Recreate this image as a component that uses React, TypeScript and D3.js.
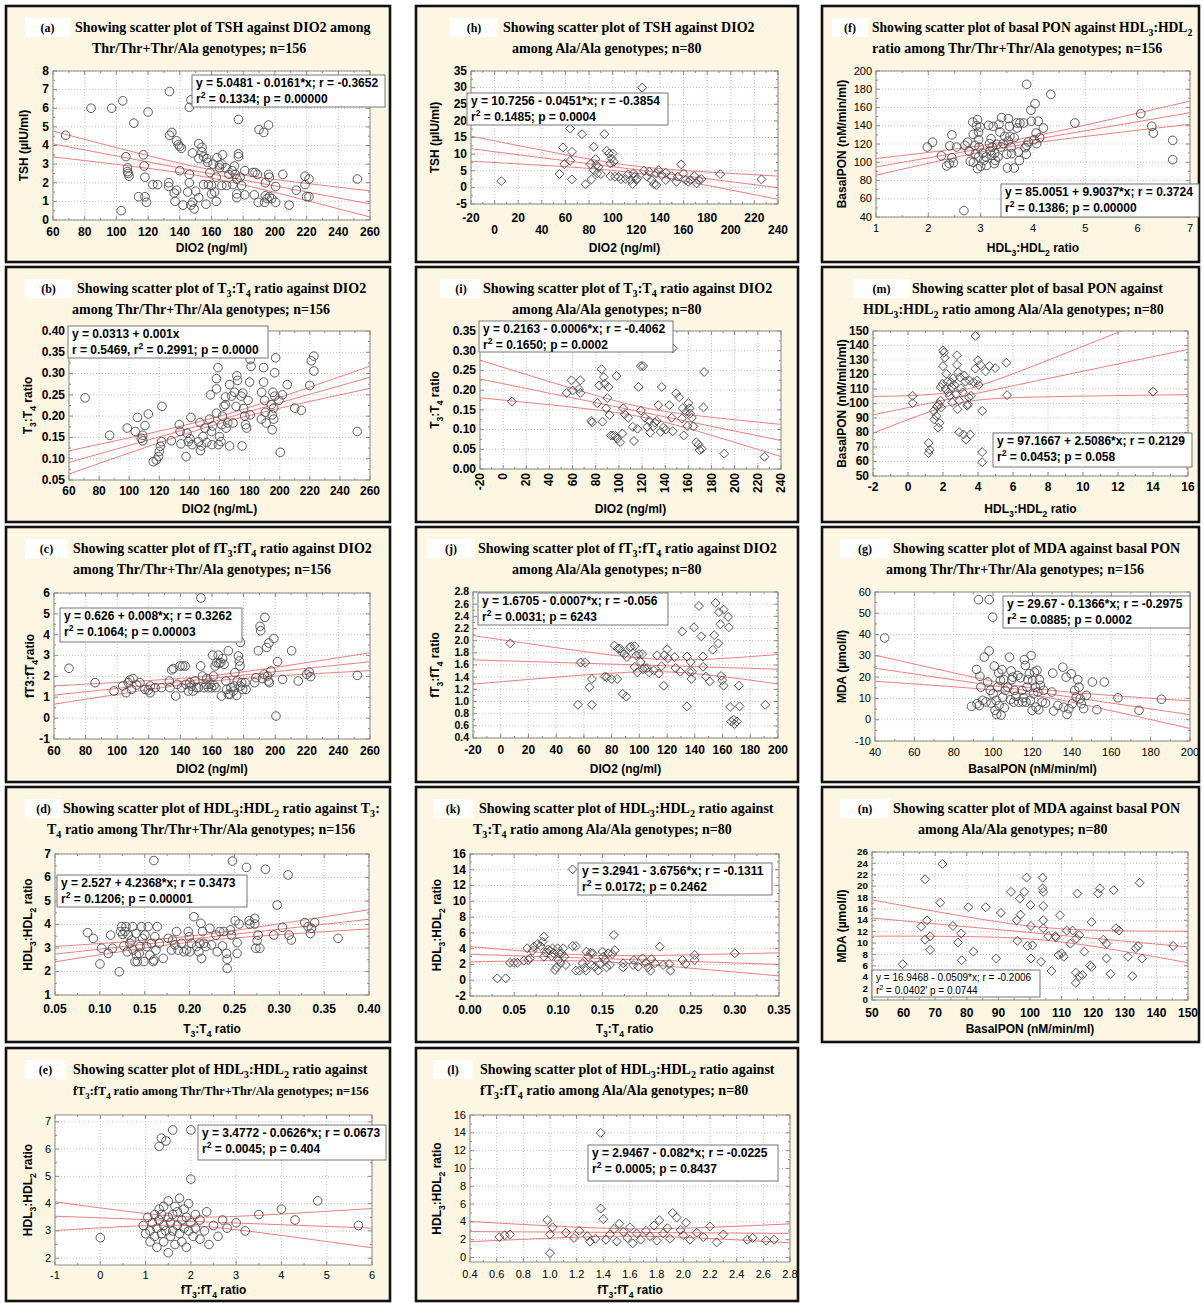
import React from 'react';
import * as d3 from 'd3';

type Pt = [number, number];

// ---------- data ----------
// (a) TSH vs DIO2, Thr/Thr+Thr/Ala
const tshDio2Thr: Pt[] = [
  [68, 4.55], [84, 6.0], [97, 6.0], [104, 6.4], [111, 5.2], [120, 5.8], [106, 3.4], [107, 2.8], [107, 2.6], [107.5, 2.5],
  [108, 2.35], [103, 0.5], [114, 1.25], [117, 3.5], [117.5, 2.9], [118, 2.3], [118, 1.25], [119, 0.95], [123, 1.9], [126, 1.9],
  [133, 1.8], [133, 2.0], [133.5, 6.9], [133.5, 4.55], [135, 4.7], [136.5, 1.45], [137, 1.0], [138, 1.6], [138, 4.25], [139, 4.05],
  [140, 3.95], [141, 3.85], [140, 2.65], [142, 0.8], [146, 2.0], [146, 2.45], [145, 1.5], [146, 6.05], [147, 6.45], [147, 0.8],
  [148, 0.95], [149, 0.6], [148, 3.6], [150, 1.55], [152, 1.2], [152, 3.3], [152, 4.1], [154, 3.9], [154, 3.65], [155, 3.4],
  [155, 1.9], [156.5, 0.85], [157, 3.3], [157.5, 3.1], [158, 1.9], [159, 2.55], [160, 1.85], [160, 1.4], [161, 3.0], [162, 1.5],
  [163, 1.0], [163, 2.3], [163.5, 3.35], [165, 2.95], [165, 2.8], [166.5, 3.0], [167, 3.5], [166.5, 1.85], [169, 2.8], [169.5, 1.85],
  [171, 2.45], [173, 2.65], [173.5, 1.9], [174.5, 2.9], [175, 2.45], [176, 2.2], [176, 1.4], [176, 1.2], [177, 3.55], [177, 3.4],
  [177, 5.4], [178, 2.3], [179, 1.85], [181, 2.65], [181, 1.35], [186, 2.55], [187.5, 2.55], [187, 1.35], [189, 2.45], [189.5, 0.95],
  [190, 4.85], [193, 4.7], [196, 5.1], [194, 2.0], [194, 1.3], [193.5, 0.95], [196, 2.45], [196.5, 2.3], [196.5, 1.25], [195, 1.15],
  [198, 1.15], [200.5, 1.8], [200.5, 0.95], [205, 2.45], [209, 0.8], [213.5, 1.6], [219, 2.35], [219, 1.9], [220, 1.25], [221.5, 1.25],
  [221.5, 2.2], [252, 2.2],
];
// (h) TSH vs DIO2, Ala/Ala
const tshDio2Ala: Pt[] = [
  [5.6, 1.9], [55, 4.0], [58, 12.0], [59, 7.0], [64, 8.0], [64, 17.7], [65.5, 10.7], [65.5, 2.4], [74, 16.0], [77, 0.9],
  [81, 7.0], [82, 2.4], [84, 12.2], [84, 5.2], [85.5, 8.5], [86, 6.7], [87, 4.2], [88, 6.2], [90, 4.0], [93, 16.0],
  [95, 11.0], [97, 10.2], [98, 7.2], [99, 8.7], [98, 3.4], [100, 10.2], [101, 7.7], [102, 3.2], [105, 3.2], [107, 2.5],
  [111, 2.5], [113, 3.9], [115, 2.2], [117, 1.0], [117.5, 4.2], [118.5, 3.2], [120, 2.2], [121, 2.7], [125, 30.0], [126.5, 5.0],
  [129, 3.2], [131, 4.7], [133, 2.2], [135, 1.0], [137, 0.7], [137, 4.2], [139, 5.2], [141.5, 3.7], [145, 2.2], [145, 4.4],
  [150, 3.4], [154, 1.7], [155, 3.2], [158, 6.9], [160, 4.2], [161.5, 2.2], [164, 1.7], [166, 2.2], [169, 3.4], [171, 1.2],
  [173, 2.2], [175, 2.5], [191, 4.0], [226, 2.4],
];
// (f) basal PON vs HDL3:HDL2, Thr/Thr+Thr/Ala
const ponHdlThr: Pt[] = [
  [1.98, 116.7], [2.08, 122], [2.25, 107], [2.35, 96], [2.4, 98.5], [2.41, 118], [2.45, 130], [2.45, 105], [2.48, 99.5], [2.54, 116.7],
  [2.68, 47], [2.7, 118.5], [2.75, 122], [2.78, 112], [2.8, 101], [2.85, 144], [2.86, 130.6], [2.86, 100], [2.89, 118.5], [2.9, 109],
  [2.92, 140], [2.94, 93], [2.94, 146.7], [2.96, 133], [2.96, 124.7], [2.96, 105.8], [2.97, 116.7], [2.99, 138.6], [3.0, 95.5], [3.04, 110],
  [3.06, 102], [3.1, 105.8], [3.11, 96.6], [3.15, 140.5], [3.17, 120.4], [3.18, 112.3], [3.2, 125.8], [3.21, 107.6], [3.22, 116.7], [3.24, 139.4],
  [3.26, 98.5], [3.27, 109.4], [3.28, 102.1], [3.31, 119.6], [3.33, 105.8], [3.35, 141.6], [3.37, 133.1], [3.39, 116.7], [3.4, 148.9], [3.43, 120.4],
  [3.46, 128.4], [3.5, 108.7], [3.51, 93.7], [3.53, 147.8], [3.53, 123.3], [3.55, 139.4], [3.56, 128.4], [3.58, 116.7], [3.59, 109.4], [3.64, 127],
  [3.64, 93.7], [3.69, 143], [3.7, 137.5], [3.72, 111.2], [3.74, 102], [3.75, 143], [3.82, 143], [3.85, 116], [3.87, 108.7], [3.88, 185.4],
  [3.88, 118.5], [3.91, 122.2], [3.96, 157], [3.97, 145], [4.02, 124.7], [4.04, 164.2], [4.06, 132], [4.07, 120.4], [4.1, 145], [4.13, 127],
  [4.2, 137.5], [4.34, 174.4], [4.8, 143], [6.06, 153.2], [6.27, 139.4], [6.3, 132], [6.67, 124], [6.67, 102.8],
];
// (b) T3:T4 ratio vs DIO2, Thr/Thr+Thr/Ala
const t3t4Dio2Thr: Pt[] = [
  [70.7, 0.243], [87, 0.155], [98.7, 0.172], [104, 0.164], [105.5, 0.197], [108, 0.148], [109, 0.155], [109, 0.142], [110.5, 0.178], [112.7, 0.205],
  [116, 0.093], [118, 0.097], [119.5, 0.105], [120, 0.117], [120.7, 0.129], [121.5, 0.14], [121.8, 0.223], [128, 0.142], [133.3, 0.18], [133.8, 0.164],
  [134.4, 0.135], [137.8, 0.105], [138.4, 0.16], [139.3, 0.14], [140.4, 0.147], [141, 0.197], [141.8, 0.133], [146, 0.14], [147, 0.185], [147.3, 0.119],
  [148, 0.13], [149, 0.152], [150.4, 0.172], [151.5, 0.138], [153.3, 0.193], [154, 0.25], [154.7, 0.164], [155, 0.133], [155.5, 0.177], [158, 0.264],
  [158, 0.288], [158, 0.207], [159, 0.314], [159.3, 0.133], [160, 0.152], [161, 0.14], [161.5, 0.18], [162, 0.2], [163, 0.223], [164, 0.227],
  [164, 0.245], [164.4, 0.172], [165.5, 0.184], [166.7, 0.274], [166.7, 0.13], [168, 0.247], [169, 0.184], [170, 0.256], [171, 0.223], [171.5, 0.295],
  [172, 0.284], [174.4, 0.247], [175, 0.13], [175.5, 0.254], [176, 0.218], [176.7, 0.2], [177.3, 0.18], [178, 0.172], [179, 0.237], [180, 0.28],
  [180.4, 0.203], [180.4, 0.333], [181, 0.317], [187.8, 0.193], [188, 0.256], [189.3, 0.314], [189.3, 0.28], [190, 0.237], [190.4, 0.209], [191, 0.184],
  [194.4, 0.227], [195, 0.203], [195, 0.168], [195.5, 0.256], [196, 0.193], [196, 0.219], [196.7, 0.247], [196.7, 0.302], [197.3, 0.337], [199.5, 0.237],
  [200.4, 0.115], [201.8, 0.25], [205, 0.274], [210, 0.219], [214.4, 0.214], [220, 0.272], [221, 0.33], [222.7, 0.341], [222.7, 0.306], [251.5, 0.164],
];
// (i) T3:T4 ratio vs DIO2, Ala/Ala
const t3t4Dio2Ala: Pt[] = [
  [7.5, 0.171], [55, 0.193], [59, 0.225], [60, 0.199], [65.5, 0.203], [66.7, 0.225], [66.7, 0.193], [76, 0.122], [77, 0.118], [81.4, 0.167],
  [83, 0.212], [85, 0.253], [85.8, 0.12], [87, 0.233], [87.8, 0.216], [89, 0.154], [90, 0.18], [91, 0.208], [92, 0.137], [93, 0.085],
  [95, 0.085], [97, 0.084], [98, 0.236], [98.5, 0.077], [101, 0.068], [103, 0.09], [103.7, 0.154], [105, 0.139], [108, 0.13], [112, 0.107],
  [113, 0.071], [116, 0.102], [117, 0.208], [119, 0.148], [119, 0.261], [121, 0.261], [122.5, 0.13], [124.5, 0.107], [126, 0.122], [127, 0.092],
  [129.7, 0.109], [131, 0.118], [132.6, 0.122], [134, 0.162], [136, 0.094], [137, 0.208], [138.4, 0.105], [140.4, 0.1], [143.6, 0.162], [145.6, 0.13],
  [146.5, 0.096], [146.5, 0.306], [149.4, 0.192], [152, 0.182], [154.4, 0.128], [155, 0.154], [156, 0.085], [158, 0.145], [159, 0.109], [160, 0.167],
  [161, 0.154], [161.5, 0.141], [163, 0.13], [164.4, 0.108], [166.7, 0.068], [168.7, 0.062], [169.6, 0.048], [171.6, 0.051], [173, 0.156], [173.6, 0.246],
  [191, 0.039], [225.7, 0.031],
];
// (m) basal PON vs HDL3:HDL2, Ala/Ala
const ponHdlAla: Pt[] = [
  [0.26, 105.3], [0.26, 100.2], [1.18, 72.8], [1.18, 65.8], [1.24, 68], [1.47, 94.9], [1.5, 89], [1.62, 91.4], [1.66, 97.9], [1.72, 83.3],
  [1.76, 99.5], [1.8, 86.7], [1.86, 101.9], [1.86, 111.2], [1.9, 97.2], [1.96, 113.5], [2.0, 125.8], [2.0, 136.7], [2.05, 135], [2.1, 131.6],
  [2.15, 110], [2.19, 120.5], [2.25, 115], [2.3, 107.7], [2.38, 105.3], [2.45, 114.7], [2.5, 111.2], [2.54, 100.7], [2.58, 117.4], [2.64, 112.8],
  [2.74, 106.5], [2.8, 133.3], [2.8, 126.7], [2.83, 96], [2.87, 121.6], [2.93, 101.9], [2.97, 118], [2.93, 80.2], [3.03, 110.5], [3.13, 107.7],
  [3.17, 78.6], [3.22, 119.3], [3.28, 115.1], [3.32, 75.1], [3.38, 98.4], [3.42, 99.5], [3.48, 104.2], [3.52, 115.8], [3.56, 78.6], [3.6, 105.3],
  [3.75, 114.7], [3.85, 124], [3.85, 146.7], [3.95, 115.8], [4.0, 129.8], [4.04, 112.8], [4.14, 126.7], [4.24, 94.9], [4.24, 66.5], [4.24, 59.5],
  [4.43, 122.1], [4.65, 125.8], [4.98, 124.4], [5.62, 128.1], [5.66, 105.8], [14.0, 108.1],
];
// (c) fT3:fT4 ratio vs DIO2, Thr/Thr+Thr/Ala
const ft3ft4Dio2Thr: Pt[] = [
  [69.5, 2.39], [86, 1.7], [98, 1.3], [103.5, 1.54], [105.6, 1.22], [107, 1.7], [108, 1.83], [109, 1.38], [110, 1.9], [112.3, 1.59],
  [114.4, 1.7], [117.6, 1.38], [119.7, 1.35], [120.8, 1.22], [121, 1.54], [124, 1.46], [128, 1.46], [133, 1.78], [133.4, 1.46], [134.5, 2.31],
  [135.5, 2.38], [137, 1.06], [138, 1.62], [139.7, 2.5], [140.8, 1.46], [141.4, 2.5], [143, 2.5], [143.5, 1.62], [145, 1.3], [146, 1.7],
  [147, 1.54], [148, 1.3], [149.2, 1.78], [150.3, 1.46], [151.4, 1.46], [152.8, 2.5], [153, 5.76], [154, 2.02], [155, 1.46], [156.3, 1.62],
  [156.7, 1.9], [157.7, 1.46], [158.7, 1.62], [159.8, 1.46], [160.4, 3.02], [161, 2.02], [161.3, 1.57], [162, 2.5], [162.5, 1.46], [163, 2.66],
  [164, 3.02], [164.4, 2.62], [165.5, 2.66], [166, 1.06], [166.7, 2.86], [167.6, 2.58], [168.8, 1.78], [169.3, 1.38], [170.3, 3.23], [170.3, 1.14],
  [171.4, 1.14], [172, 1.46], [173.5, 1.3], [174, 1.54], [174.5, 2.18], [175.6, 1.09], [176, 1.78], [176.7, 2.98], [177.3, 2.74], [177.7, 2.5],
  [178, 1.54], [178, 3.63], [178.8, 1.7], [179.4, 1.38], [181, 1.7], [181.5, 1.38], [187, 1.7], [187.8, 1.94], [189.3, 3.23], [190.4, 4.4],
  [190.8, 4.19], [192, 1.9], [193, 2.1], [193.5, 4.83], [194.6, 3.39], [195.2, 2.02], [195.7, 1.78], [196, 3.6], [196.3, 1.7], [197.3, 2.26],
  [199.2, 3.82], [200.5, 0.1], [201.5, 2.71], [204.7, 1.86], [210.4, 3.23], [214.6, 1.78], [220, 2.1], [221.6, 2.21], [222.4, 1.99], [252, 2.05],
];
// (j) fT3:fT4 ratio vs DIO2, Ala/Ala
const ft3ft4Dio2Ala: Pt[] = [
  [6.9, 1.955], [55.7, 0.945], [57.6, 1.64], [61, 1.64], [64, 1.235], [65.8, 1.37], [65.8, 0.945], [75, 1.41], [76.6, 1.4], [80, 1.37],
  [82, 1.92], [84, 1.37], [84.5, 1.87], [86, 1.87], [87, 1.82], [88, 1.125], [89.4, 1.78], [90.6, 1.08], [91, 1.73], [93, 1.89],
  [94, 1.9], [96.6, 1.91], [96.6, 1.57], [97.8, 1.76], [98.5, 1.48], [99.7, 1.78], [101, 1.65], [102, 1.78], [102.6, 1.53], [103.8, 1.55],
  [105.5, 1.55], [107, 1.48], [110.3, 1.51], [112.7, 1.76], [114, 1.46], [116, 1.58], [117.5, 1.26], [118, 1.76], [120, 1.86], [120.6, 1.71],
  [125.4, 1.73], [126, 1.55], [129.5, 1.49], [131, 2.15], [134.3, 1.74], [134.3, 0.92], [136, 1.49], [137, 1.65], [137.5, 1.37], [138, 1.49],
  [139.4, 2.22], [143, 2.57], [144.7, 2.07], [146, 1.74], [146, 1.57], [148, 1.41], [150.7, 1.33], [153, 1.85], [154, 2.09], [155, 2.62],
  [157, 1.955], [157.4, 2.47], [158.4, 2.27], [159, 1.42], [159.8, 1.35], [160.8, 2.51], [160.8, 1.26], [164, 2.39], [164.6, 2.22], [165.5, 0.91],
  [166.3, 0.67], [168, 0.7], [168.7, 0.63], [170.4, 0.67], [171.8, 1.26], [172.3, 0.92], [190.8, 0.945],
];
// (g) MDA vs basal PON, Thr/Thr+Thr/Ala
const mdaPonThr: Pt[] = [
  [44.9, 38.4], [89, 6.3], [91.6, 23.6], [91.8, 7.5], [92.6, 56.4], [93, 6.7], [93.3, 20.4], [93.8, 15.3], [94.7, 9.1], [95.5, 29.4],
  [96.4, 8.3], [97.2, 17.7], [98, 32.3], [98, 56.4], [98.6, 13.8], [99, 7.8], [99.8, 48.2], [100, 12.2], [100.6, 25.2], [101, 4.4],
  [101.5, 9.1], [101.8, 2.5], [102.3, 15.3], [102.8, 21.9], [103, 6.7], [103.7, 18.5], [104, 2.2], [104.5, 23.5], [104.9, 10.6], [105.4, 18.8],
  [105.7, 5.6], [106.2, 13.8], [107.4, 15.3], [108.3, 29.4], [108.8, 9.4], [109.1, 22.9], [109.5, 18.8], [110, 20], [110.5, 8.3], [110.8, 13.8],
  [111.6, 11], [112.5, 20.8], [113, 8.3], [113.9, 19.7], [114.7, 13.8], [115, 8.3], [115.4, 10.3], [115.9, 28.2], [116.4, 25.5], [116.7, 8.3],
  [117.2, 15.3], [117.6, 18.8], [118.4, 21.6], [118.9, 9.1], [119.3, 30.2], [119.8, 4.4], [120.1, 18.5], [120.6, 12.2], [121, 22.4], [121.5, 15.3],
  [121.8, 5.9], [122.3, 23.2], [122.7, 13], [123.2, 4.7], [123.5, 18.8], [124, 16.1], [124.9, 8.3], [125.7, 13.8], [126.6, 7.8], [129.8, 13],
  [130.3, 21.9], [130.7, 4.1], [132.9, 6.7], [135.4, 24.7], [135.8, 5.9], [137.1, 20], [137.5, 2.5], [138.5, 5.2], [139.7, 21.6], [140.2, 7.5],
  [141.4, 13.8], [142.2, 10.6], [143, 18.8], [143.6, 15.3], [144.2, 9.9], [144.8, 7.5], [146, 5.2], [147.3, 11.4], [150.4, 17.7], [152.7, 4.7],
  [156.5, 17.7], [163.4, 10.3], [174.1, 4.4], [185.5, 9.6],
];
// (d) HDL3:HDL2 ratio vs T3:T4 ratio, Thr/Thr+Thr/Ala
const hdlT3t4Thr: Pt[] = [
  [0.0864, 3.65], [0.0927, 3.41], [0.1001, 2.32], [0.102, 2.99], [0.1094, 2.77], [0.112, 3.55], [0.1142, 2.99], [0.1216, 1.99], [0.1231, 3.7], [0.1242, 3.91],
  [0.1254, 3.58], [0.1268, 3.09], [0.128, 3.7], [0.1291, 3.91], [0.1305, 2.84], [0.1317, 3.55], [0.1335, 3.2], [0.1354, 3.34], [0.1365, 3.91], [0.1372, 2.91],
  [0.1391, 2.42], [0.1402, 3.62], [0.1409, 2.7], [0.1417, 2.42], [0.1439, 2.77], [0.1447, 3.06], [0.1465, 3.91], [0.1476, 3.41], [0.1491, 2.42], [0.1502, 3.55],
  [0.1521, 3.06], [0.1539, 3.91], [0.1558, 2.7], [0.1576, 3.2], [0.1595, 2.42], [0.1602, 6.72], [0.1602, 2.49], [0.1613, 3.48], [0.1625, 2.91], [0.164, 3.91],
  [0.1662, 3.2], [0.1706, 2.56], [0.1762, 3.41], [0.1799, 2.91], [0.181, 3.34], [0.1836, 3.13], [0.1855, 3.7], [0.1873, 2.91], [0.191, 3.2], [0.1937, 2.84],
  [0.1966, 2.91], [0.1985, 3.7], [0.1996, 3.48], [0.2003, 2.84], [0.2022, 3.2], [0.2048, 4.33], [0.2078, 3.06], [0.2104, 2.84], [0.2115, 3.2], [0.2126, 4.05],
  [0.2133, 2.56], [0.2144, 3.7], [0.2159, 3.2], [0.2181, 3.06], [0.2226, 3.84], [0.2245, 3.13], [0.2293, 3.55], [0.2308, 2.84], [0.2337, 3.7], [0.2367, 3.09],
  [0.2382, 3.7], [0.2412, 2.77], [0.2419, 2.52], [0.2419, 2.13], [0.2456, 3.77], [0.2467, 3.55], [0.2478, 6.7], [0.2508, 4.16], [0.253, 3.23], [0.253, 2.77],
  [0.2553, 4.02], [0.2634, 6.43], [0.2664, 4.16], [0.2672, 4.02], [0.2727, 4.26], [0.2727, 4.02], [0.2738, 2.99], [0.2753, 3.31], [0.2764, 3.55], [0.2783, 2.99],
  [0.2846, 6.35], [0.2939, 3.55], [0.2976, 4.83], [0.3035, 3.88], [0.3098, 6.11], [0.311, 3.55], [0.3135, 3.34], [0.3284, 4.08], [0.332, 3.91], [0.3347, 3.62],
  [0.3358, 3.84], [0.3395, 4.08], [0.3655, 3.41],
];
// (k) HDL3:HDL2 ratio vs T3:T4 ratio, Ala/Ala
const hdlT3t4Ala: Pt[] = [
  [0.0309, 0.24], [0.0404, 0.24], [0.0453, 2.2], [0.0498, 2.2], [0.0536, 2.2], [0.0611, 2.48], [0.0649, 4.04], [0.066, 2.56], [0.0679, 2.77], [0.0709, 3.75],
  [0.0724, 4.25], [0.0766, 4.58], [0.08, 4.33], [0.0822, 4.88], [0.0837, 5.52], [0.0837, 2.98], [0.086, 3.49], [0.0886, 3.9], [0.0905, 3.75], [0.0924, 3.07],
  [0.0935, 4.04], [0.095, 3.41], [0.0962, 1.3], [0.0981, 1.63], [0.0992, 4.04], [0.1, 2.56], [0.101, 3.41], [0.1026, 2.14], [0.1037, 3.41], [0.1056, 4.04],
  [0.1068, 2.98], [0.1086, 1.93], [0.1162, 14.05], [0.1162, 4.33], [0.12, 1.22], [0.12, 4.33], [0.1237, 1.22], [0.1275, 2.14], [0.1301, 1.63], [0.1313, 1.22],
  [0.132, 3.62], [0.1339, 2.98], [0.1366, 3.49], [0.1377, 1.93], [0.1388, 3.41], [0.1415, 1.72], [0.1452, 1.22], [0.1471, 2.06], [0.1501, 3.62], [0.1509, 2.98],
  [0.1528, 2.56], [0.1547, 1.63], [0.1565, 3.41], [0.1584, 1.93], [0.1611, 3.32], [0.163, 5.73], [0.1641, 3.81], [0.1735, 2.14], [0.1735, 1.63], [0.1848, 1.93],
  [0.1856, 2.56], [0.1905, 1.72], [0.1954, 2.77], [0.1992, 2.2], [0.2018, 1.63], [0.2045, 1.22], [0.2056, 2.65], [0.2094, 2.14], [0.215, 4.25], [0.2188, 1.93],
  [0.2256, 2.06], [0.2271, 1.22], [0.2407, 2.56], [0.2444, 2.06], [0.2546, 3.2], [0.2546, 2.56], [0.2999, 3.41],
];
// (n) MDA vs basal PON, Ala/Ala
const mdaPonAla: Pt[] = [
  [59.7, 6.3], [65.6, 12.9], [66.8, 21.2], [66.8, 10.6], [67.4, 14.0], [68.4, 11.2], [68.4, 8.8], [71.6, 17.1], [72.3, 23.9], [75.6, 13],
  [77.2, 10.1], [78.2, 11.7], [78.4, 7], [80.5, 16.3], [82.1, 8.5], [86, 16.3], [89.3, 7.3], [90.8, 15.3], [94, 19], [95.8, 14],
  [96, 10.4], [96.8, 17.8], [97, 15], [98.2, 19], [98.9, 21.5], [99.2, 9.5], [100.2, 16.7], [100.3, 13], [100.3, 7.3], [100.8, 9.6],
  [103.5, 6.7], [104, 21.5], [104, 19.6], [104.2, 19], [104.2, 16.5], [104.2, 14], [104.2, 12.6], [105.8, 11.2], [106.8, 5.1], [108, 11.2],
  [108.2, 11], [109, 7.9], [109.5, 14.9], [110, 8.2], [110.7, 7.6], [111.6, 12.2], [112.8, 9.9], [113.5, 12.2], [114.5, 3], [114.5, 4.8],
  [114.7, 10.8], [115, 18.7], [115.6, 11.4], [115.6, 4.2], [116.6, 4.4], [117.2, 8.5], [119, 6.1], [119.5, 13.7], [119.5, 5.8], [121.6, 18.7],
  [122.1, 19.6], [123.2, 10.6], [124.2, 9.9], [124.2, 7.3], [125.5, 4.6], [126.5, 19.3], [127.2, 12.6], [128.2, 12.2], [131, 7.6], [132.4, 4.2],
  [133.5, 9.1], [134.2, 9.5], [134.7, 20.6], [135.5, 7.3], [145.3, 9.5],
];
// (e) HDL3:HDL2 ratio vs fT3:fT4 ratio, Thr/Thr+Thr/Ala
const hdlFt3ft4Thr: Pt[] = [
  [0.0, 2.75], [0.95, 3.2], [1.0, 2.9], [1.05, 3.5], [1.1, 3.0], [1.1, 2.6], [1.15, 3.3], [1.2, 3.6], [1.2, 2.8], [1.25, 3.1],
  [1.25, 2.4], [1.3, 3.4], [1.3, 3.8], [1.3, 6.1], [1.35, 2.9], [1.35, 3.6], [1.35, 6.4], [1.4, 3.2], [1.4, 2.6], [1.4, 3.9],
  [1.45, 3.0], [1.45, 6.3], [1.5, 3.5], [1.5, 2.2], [1.5, 4.1], [1.55, 3.3], [1.55, 2.8], [1.6, 6.7], [1.6, 3.6], [1.6, 3.0],
  [1.65, 3.9], [1.65, 2.5], [1.7, 3.2], [1.7, 3.7], [1.75, 2.9], [1.75, 4.2], [1.8, 3.4], [1.8, 2.6], [1.85, 3.1], [1.85, 3.8],
  [1.9, 3.5], [1.9, 2.4], [1.95, 3.0], [1.95, 4.0], [2.0, 6.7], [2.0, 4.9], [2.0, 3.3], [2.05, 2.8], [2.1, 3.6], [2.1, 3.1],
  [2.2, 3.4], [2.2, 2.7], [2.3, 3.0], [2.35, 3.7], [2.4, 2.5], [2.5, 3.2], [2.6, 2.8], [2.7, 3.4], [2.8, 3.1], [3.0, 3.3],
  [3.2, 3.0], [3.5, 3.6], [4.0, 3.8], [4.3, 3.4], [4.8, 4.1], [5.7, 3.2],
];
// (l) HDL3:HDL2 ratio vs fT3:fT4 ratio, Ala/Ala
const hdlFt3ft4Ala: Pt[] = [
  [0.62, 2.3], [0.66, 2.5], [0.7, 2.6], [0.98, 4.2], [1.0, 0.5], [1.0, 2.6], [1.02, 3.4], [1.12, 2.8], [1.18, 2.2], [1.22, 3.0],
  [1.28, 2.4], [1.3, 1.8], [1.34, 2.1], [1.38, 14.0], [1.38, 5.5], [1.4, 4.3], [1.42, 2.0], [1.45, 2.6], [1.48, 3.2], [1.5, 1.8],
  [1.52, 3.8], [1.55, 2.9], [1.58, 2.2], [1.6, 3.4], [1.62, 1.6], [1.65, 2.7], [1.68, 2.0], [1.72, 3.0], [1.75, 2.4], [1.78, 3.6],
  [1.8, 1.9], [1.82, 4.2], [1.85, 2.7], [1.88, 3.3], [1.9, 2.1], [1.92, 5.0], [1.95, 4.5], [1.98, 3.1], [2.0, 2.5], [2.02, 3.9],
  [2.05, 2.0], [2.1, 2.8], [2.15, 2.3], [2.2, 3.5], [2.25, 1.7], [2.3, 2.6], [2.48, 2.0], [2.52, 2.2], [2.62, 1.9], [2.68, 2.0],
];

// regression coefficients (intercept, slope) as printed
const fitA = [5.0481, -0.0161];
const fitH = [10.7256, -0.0451];
const fitF = [85.0051, 9.9037];
const fitB = [0.0313, 0.001];
const fitI = [0.2163, -0.0006];
const fitM = [97.1667, 2.5086];
const fitC = [0.626, 0.008];
const fitJ = [1.6705, -0.0007];
const fitG = [29.67, -0.1366];
const fitD = [2.527, 4.2368];
const fitK = [3.2941, -3.6756];
const fitN = [16.9468, -0.0509];
const fitE = [3.4772, -0.0626];
const fitL = [2.9467, -0.082];

const THR = 'Thr/Thr+Thr/Ala genotypes; n=156';
const ALA = 'Ala/Ala genotypes; n=80';

// ---------- layout ----------
type Cfg = {
  id: string; frame: number[]; plot: number[]; xd: number[]; yd: number[]; xs: number; ys: number;
  xf: string; yf: string; xMode: 'normal' | 'stagger' | 'rotate'; bold: boolean; marker: 'circle' | 'diamond';
  pts: Pt[]; fit: number[]; n: number; title: string[]; titleX: number[]; titleFs?: number[]; lab: number[];
  xTitle: string; yTitle: string; yTitleX: number; eq: string[]; eqBox: number[]; eqBold: boolean;
  xLabOff?: number; yTickFs?: number;
};

const C1 = [6, 390], C2 = [416, 798], C3 = [822, 1199];
const R = [[6, 262], [267, 522], [527, 782], [787, 1042], [1048, 1301]];
const fr = (c: number[], r: number[]) => [c[0], r[0], c[1], r[1]];

const PANELS: Cfg[] = [
  { id: '(a)', frame: fr(C1, R[0]), plot: [53, 71, 370, 220], xd: [60, 260], yd: [0, 8], xs: 20, ys: 1, xf: 'd', yf: 'd', xMode: 'normal', bold: true, marker: 'circle',
    pts: tshDio2Thr, fit: fitA, n: 156, title: ['Showing scatter plot of TSH against DIO2 among', THR], titleX: [75, 92], lab: [25, 70],
    xTitle: 'DIO2 (ng/ml)', yTitle: 'TSH (µIU/ml)', yTitleX: 24, eq: ['y = 5.0481 - 0.0161*x; r = -0.3652', 'r^2 = 0.1334; p = 0.00000'], eqBox: [192, 75, 385, 107], eqBold: true, xLabOff: 16 },
  { id: '(h)', frame: fr(C2, R[0]), plot: [471, 71, 778, 204], xd: [-20, 240], yd: [-5, 35], xs: 20, ys: 5, xf: 'd', yf: 'd', xMode: 'stagger', bold: true, marker: 'diamond',
    pts: tshDio2Ala, fit: fitH, n: 80, title: ['Showing scatter plot of TSH against DIO2', 'among ' + ALA], titleX: [503, 512], lab: [450, 498],
    xTitle: 'DIO2 (ng/ml)', yTitle: 'TSH (µIU/ml)', yTitleX: 435, eq: ['y = 10.7256 - 0.0451*x; r = -0.3854', 'r^2 = 0.1485; p = 0.0004'], eqBox: [467, 93, 668, 125], eqBold: true },
  { id: '(f)', frame: fr(C3, R[0]), plot: [876, 71, 1190, 217], xd: [1, 7], yd: [40, 200], xs: 1, ys: 20, xf: 'd', yf: 'd', xMode: 'normal', bold: false, marker: 'circle',
    pts: ponHdlThr, fit: fitF, n: 156, title: ['Showing scatter plot of basal PON against HDL_3:HDL_2', 'ratio among ' + THR], titleX: [872, 872], titleFs: [13.6, 14], lab: [832, 868],
    xTitle: 'HDL_3:HDL_2 ratio', yTitle: 'BasalPON (nM/min/ml)', yTitleX: 842, eq: ['y = 85.0051 + 9.9037*x; r = 0.3724', 'r^2 = 0.1386; p = 0.00000'], eqBox: [1001, 184, 1199, 217], eqBold: true, xLabOff: 15 },
  { id: '(b)', frame: fr(C1, R[1]), plot: [69, 331, 370, 480], xd: [60, 260], yd: [0.05, 0.4], xs: 20, ys: 0.05, xf: 'd', yf: '.2f', xMode: 'normal', bold: true, marker: 'circle',
    pts: t3t4Dio2Thr, fit: fitB, n: 156, title: ['Showing scatter plot of T_3:T_4 ratio against DIO2', 'among ' + THR], titleX: [77, 72], lab: [25, 72],
    xTitle: 'DIO2 (ng/mL)', yTitle: 'T_3:T_4 ratio', yTitleX: 28, eq: ['y = 0.0313 + 0.001x', 'r = 0.5469, r^2 = 0.2991; p = 0.0000'], eqBox: [68, 326, 268, 358], eqBold: true, xLabOff: 15 },
  { id: '(i)', frame: fr(C2, R[1]), plot: [480, 331, 781, 469], xd: [-20, 240], yd: [0, 0.35], xs: 20, ys: 0.05, xf: 'd', yf: '.2f', xMode: 'rotate', bold: true, marker: 'diamond',
    pts: t3t4Dio2Ala, fit: fitI, n: 80, title: ['Showing scatter plot of T_3:T_4 ratio against DIO2', 'among ' + ALA], titleX: [483, 512], lab: [440, 482],
    xTitle: 'DIO2 (ng/ml)', yTitle: 'T_3:T_4 ratio', yTitleX: 435, eq: ['y = 0.2163 - 0.0006*x; r = -0.4062', 'r^2 = 0.1650; p = 0.0002'], eqBox: [479, 321, 673, 352], eqBold: true },
  { id: '(m)', frame: fr(C3, R[1]), plot: [873, 331, 1188, 476], xd: [-2, 16], yd: [50, 150], xs: 2, ys: 10, xf: 'd', yf: 'd', xMode: 'normal', bold: true, marker: 'diamond',
    pts: ponHdlAla, fit: fitM, n: 80, title: ['Showing scatter plot of basal PON against', 'HDL_3:HDL_2 ratio among ' + ALA], titleX: [912, 863], lab: [853, 910],
    xTitle: 'HDL_3:HDL_2 ratio', yTitle: 'BasalPON (nM/min/ml)', yTitleX: 842, eq: ['y = 97.1667 + 2.5086*x; r = 0.2129', 'r^2 = 0.0453; p = 0.058'], eqBox: [993, 433, 1192, 467], eqBold: true, xLabOff: 15 },
  { id: '(c)', frame: fr(C1, R[2]), plot: [54, 593, 370, 739], xd: [60, 260], yd: [-1, 6], xs: 20, ys: 1, xf: 'd', yf: 'd', xMode: 'normal', bold: true, marker: 'circle',
    pts: ft3ft4Dio2Thr, fit: fitC, n: 156, title: ['Showing scatter plot of fT_3:fT_4 ratio against DIO2', 'among ' + THR], titleX: [73, 73], lab: [25, 68],
    xTitle: 'DIO2 (ng/ml)', yTitle: 'fT3:fT_4ratio', yTitleX: 30, eq: ['y = 0.626 + 0.008*x; r = 0.3262', 'r^2 = 0.1064; p = 0.00003'], eqBox: [60, 608, 242, 642], eqBold: true, xLabOff: 16 },
  { id: '(j)', frame: fr(C2, R[2]), plot: [473, 592, 778, 738], xd: [-20, 200], yd: [0.4, 2.8], xs: 20, ys: 0.2, xf: 'd', yf: '.1f', xMode: 'normal', bold: true, marker: 'diamond',
    pts: ft3ft4Dio2Ala, fit: fitJ, n: 80, title: ['Showing scatter plot of fT_3:fT_4 ratio against DIO2', 'among ' + ALA], titleX: [478, 512], lab: [427, 475],
    xTitle: 'DIO2 (ng/ml)', yTitle: 'fT_3:fT_4 ratio', yTitleX: 435, eq: ['y = 1.6705 - 0.0007*x; r = -0.056', 'r^2 = 0.0031; p = 6243'], eqBox: [478, 593, 668, 625], eqBold: true,
    xLabOff: 16, yTickFs: 10.5 },
  { id: '(g)', frame: fr(C3, R[2]), plot: [875, 592, 1190, 741], xd: [40, 200], yd: [-10, 60], xs: 20, ys: 10, xf: 'd', yf: 'd', xMode: 'normal', bold: false, marker: 'circle',
    pts: mdaPonThr, fit: fitG, n: 156, title: ['Showing scatter plot of MDA against basal PON', 'among ' + THR], titleX: [893, 886], lab: [840, 890],
    xTitle: 'BasalPON (nM/min/ml)', yTitle: 'MDA (µmol/l)', yTitleX: 842, eq: ['y = 29.67 - 0.1366*x; r = -0.2975', 'r^2 = 0.0885; p = 0.0002'], eqBox: [1003, 596, 1190, 628], eqBold: true, xLabOff: 15 },
  { id: '(d)', frame: fr(C1, R[3]), plot: [55, 854, 369, 995], xd: [0.05, 0.4], yd: [1, 7], xs: 0.05, ys: 1, xf: '.2f', yf: 'd', xMode: 'normal', bold: true, marker: 'circle',
    pts: hdlT3t4Thr, fit: fitD, n: 156, title: ['Showing scatter plot of HDL_3:HDL_2 ratio against T_3:', 'T_4 ratio among ' + THR], titleX: [63, 47], lab: [25, 62],
    xTitle: 'T_3:T_4 ratio', yTitle: 'HDL_3:HDL_2 ratio', yTitleX: 28, eq: ['y = 2.527 + 4.2368*x; r = 0.3473', 'r^2 = 0.1206; p = 0.00001'], eqBox: [57, 875, 247, 907], eqBold: true, xLabOff: 18 },
  { id: '(k)', frame: fr(C2, R[3]), plot: [470, 854, 779, 996], xd: [0, 0.35], yd: [-2, 16], xs: 0.05, ys: 2, xf: '.2f', yf: 'd', xMode: 'normal', bold: true, marker: 'diamond',
    pts: hdlT3t4Ala, fit: fitK, n: 80, title: ['Showing scatter plot of HDL_3:HDL_2 ratio against', 'T_3:T_4 ratio among ' + ALA], titleX: [479, 473], lab: [433, 473],
    xTitle: 'T_3:T_4 ratio', yTitle: 'HDL_3:HDL_2 ratio', yTitleX: 437, eq: ['y = 3.2941 - 3.6756*x; r = -0.1311', 'r^2 = 0.0172; p = 0.2462'], eqBox: [578, 863, 772, 895], eqBold: true, xLabOff: 18 },
  { id: '(n)', frame: fr(C3, R[3]), plot: [872, 852, 1188, 1000], xd: [50, 150], yd: [0, 26], xs: 10, ys: 2, xf: 'd', yf: 'd', xMode: 'normal', bold: true, marker: 'diamond',
    pts: mdaPonAla, fit: fitN, n: 80, title: ['Showing scatter plot of MDA against basal PON', 'among ' + ALA], titleX: [893, 918], lab: [840, 890],
    xTitle: 'BasalPON (nM/min/ml)', yTitle: 'MDA (µmol/l)', yTitleX: 842, eq: ['y =  16.9468 - 0.0509*x; r =  -0.2006', "r^2 = 0.0402' p =  0.0744"], eqBox: [872, 970, 1040, 997], eqBold: false,
    xLabOff: 17, yTickFs: 9.8 },
  { id: '(e)', frame: fr(C1, R[4]), plot: [55, 1115, 372, 1265], xd: [-1, 6], yd: [1.75, 7.25], xs: 1, ys: 1, xf: 'd', yf: 'd', xMode: 'normal', bold: false, marker: 'circle',
    pts: hdlFt3ft4Thr, fit: fitE, n: 156, title: ['Showing scatter plot of HDL_3:HDL_2 ratio against', 'fT_3:fT_4 ratio among ' + THR], titleX: [73, 73], titleFs: [14, 12.3], lab: [25, 66],
    xTitle: 'fT_3:fT_4 ratio', yTitle: 'HDL_3:HDL_2 ratio', yTitleX: 28, eq: ['y = 3.4772 - 0.0626*x; r = 0.0673', 'r^2 = 0.0045; p = 0.404'], eqBox: [198, 1125, 386, 1160], eqBold: true },
  { id: '(l)', frame: fr(C2, R[4]), plot: [470, 1115, 790, 1262], xd: [0.4, 2.8], yd: [-0.5, 16], xs: 0.2, ys: 2, xf: '.1f', yf: 'd', xMode: 'normal', bold: false, marker: 'diamond',
    pts: hdlFt3ft4Ala, fit: fitL, n: 80, title: ['Showing scatter plot of HDL_3:HDL_2 ratio against', 'fT_3:fT_4 ratio among ' + ALA], titleX: [480, 480], lab: [433, 473],
    xTitle: 'fT_3:fT_4 ratio', yTitle: 'HDL_3:HDL_2 ratio', yTitleX: 437, eq: ['y = 2.9467 - 0.082*x; r = -0.0225', 'r^2 = 0.0005; p = 0.8437'], eqBox: [588, 1145, 778, 1181], eqBold: true, xLabOff: 16 },
];

const SANS = 'Liberation Sans, Arial, sans-serif';
const SERIF = 'Liberation Serif, Times New Roman, serif';
const loc = d3.formatLocale({ decimal: '.', thousands: ',', grouping: [3], currency: ['$', ''], minus: '-' });

// turns "T_3:T_4" / "r^2" into tspans with sub/superscripts
function Rich({ s, fs }: { s: string; fs: number }) {
  const parts = s.split(/([_^]\d)/).filter((p) => p !== '');
  let cur = 0;
  return (
    <>
      {parts.map((p, i) => {
        let target = 0, size = fs, txt = p;
        if (p.length === 2 && p[0] === '_') { target = fs * 0.3; size = fs * 0.72; txt = p[1]; }
        else if (p.length === 2 && p[0] === '^') { target = -fs * 0.4; size = fs * 0.72; txt = p[1]; }
        const dy = target - cur;
        cur = target;
        return <tspan key={i} dy={dy} fontSize={size}>{txt}</tspan>;
      })}
    </>
  );
}

const ticksOf = (d: number[], step: number) => {
  const lo = Math.min(d[0], d[1]), hi = Math.max(d[0], d[1]);
  const start = Math.ceil(lo / step - 1e-6) * step;
  return d3.range(start, hi + step * 1e-3, step).map((v) => +v.toFixed(6));
};

function Panel({ p, idx }: { p: Cfg; idx: number }) {
  const [l, t, r, b] = p.plot;
  const x = d3.scaleLinear().domain(p.xd).range([l, r]);
  const y = d3.scaleLinear().domain(p.yd).range([b, t]);
  const xt = ticksOf(p.xd, p.xs);
  const yt = ticksOf(p.yd, p.ys);
  const xMinor = xt.slice(0, -1).map((v) => v + p.xs / 2).filter((v) => v < p.xd[1]);
  const yMinor = yt.slice(0, -1).map((v) => v + p.ys / 2).filter((v) => v < p.yd[1]);
  const fx = loc.format(p.xf), fy = loc.format(p.yf);

  // fit line and 95% confidence band around the printed regression
  const [a, sl] = p.fit;
  const xs = p.pts.map((d) => d[0]);
  const mx = d3.mean(xs) as number;
  const vx = d3.variance(xs) as number;
  const s = Math.sqrt(d3.sum(p.pts, (d) => (d[1] - a - sl * d[0]) ** 2) / (p.pts.length - 2));
  const tq = p.n > 100 ? 1.975 : 1.99;
  const half = (v: number) => tq * s * Math.sqrt(1 / p.n + (v - mx) ** 2 / ((p.n - 1) * vx));
  const grid = d3.range(0, 81).map((i) => p.xd[0] + ((p.xd[1] - p.xd[0]) * i) / 80);
  const line = (f: (v: number) => number) => d3.line<number>().x((v) => x(v)).y((v) => y(f(v)))(grid) || '';

  const tickFs = p.bold ? 12 : 11;
  const yFs = p.yTickFs || tickFs;
  const tickW = p.bold ? 'bold' : 'normal';
  const eqFs = p.eqBold ? 12 : 10;
  const tFs = p.titleFs || [14, 14];
  const xOff = p.xLabOff || 14;
  const [fx0, fy0, fx1, fy1] = p.frame;
  const midX = (l + r) / 2, midY = (t + b) / 2;
  const clipId = `clip${idx}`;
  const sym = d3.symbol().type(d3.symbolSquare).size(40)() || '';

  return (
    <g>
      <rect x={fx0} y={fy0} width={fx1 - fx0} height={fy1 - fy0} fill="#fcf6e3" stroke="#111" strokeWidth={2.6} />
      <rect x={p.lab[0]} y={fy0 + 12} width={p.lab[1] - p.lab[0]} height={19} fill="#fff" />
      <text x={(p.lab[0] + p.lab[1]) / 2} y={fy0 + 26} textAnchor="middle" fontFamily={SERIF} fontWeight="bold" fontSize={12}>{p.id}</text>
      {p.title.map((s2, i) => (
        <text key={i} x={p.titleX[i]} y={fy0 + 26 + i * 21} fontFamily={SERIF} fontWeight="bold" fontSize={tFs[i]}>
          <Rich s={s2} fs={tFs[i]} />
        </text>
      ))}
      <defs>
        <clipPath id={clipId}><rect x={l} y={t} width={r - l} height={b - t} /></clipPath>
      </defs>
      <rect x={l} y={t} width={r - l} height={b - t} fill="#fff" />
      {xt.map((v, i) => (
        <line key={'gx' + i} x1={x(v)} x2={x(v)} y1={t} y2={b} stroke="#c4c4c4" strokeDasharray="1,2" />
      ))}
      {yt.map((v, i) => (
        <line key={'gy' + i} x1={l} x2={r} y1={y(v)} y2={y(v)} stroke="#c4c4c4" strokeDasharray="1,2" />
      ))}
      <rect x={l} y={t} width={r - l} height={b - t} fill="none" stroke="#8c8c8c" strokeWidth={1} />
      {xt.map((v, i) => (
        <g key={'tx' + i} stroke="#8c8c8c">
          <line x1={x(v)} x2={x(v)} y1={b} y2={b - 4} />
          <line x1={x(v)} x2={x(v)} y1={t} y2={t + 4} />
        </g>
      ))}
      {xMinor.map((v, i) => (
        <g key={'mx' + i} stroke="#8c8c8c">
          <line x1={x(v)} x2={x(v)} y1={b} y2={b - 2} />
          <line x1={x(v)} x2={x(v)} y1={t} y2={t + 2} />
        </g>
      ))}
      {yt.map((v, i) => (
        <g key={'ty' + i} stroke="#8c8c8c">
          <line x1={l} x2={l + 4} y1={y(v)} y2={y(v)} />
          <line x1={r} x2={r - 4} y1={y(v)} y2={y(v)} />
        </g>
      ))}
      {yMinor.map((v, i) => (
        <g key={'my' + i} stroke="#8c8c8c">
          <line x1={l} x2={l + 2} y1={y(v)} y2={y(v)} />
          <line x1={r} x2={r - 2} y1={y(v)} y2={y(v)} />
        </g>
      ))}
      <g clipPath={`url(#${clipId})`} fill="none" stroke="#f07a7a" strokeWidth={1}>
        <path d={line((v) => a + sl * v)} />
        <path d={line((v) => a + sl * v + half(v))} />
        <path d={line((v) => a + sl * v - half(v))} />
      </g>
      <g fill="none" stroke="#4a4a4a" strokeWidth={0.9}>
        {p.pts.map((d, i) =>
          p.marker === 'circle' ? (
            <circle key={i} cx={x(d[0])} cy={y(d[1])} r={4.3} />
          ) : (
            <path key={i} d={sym} transform={`translate(${x(d[0])},${y(d[1])}) rotate(45)`} />
          )
        )}
      </g>
      {/* y tick labels */}
      {yt.map((v, i) => (
        <text key={'yl' + i} x={l - 4} y={y(v) + yFs * 0.32} textAnchor="end" fontFamily={SANS} fontWeight={tickW} fontSize={yFs}>{fy(v)}</text>
      ))}
      {/* x tick labels */}
      {xt.map((v, i) => {
        if (p.xMode === 'rotate') {
          return (
            <text key={'xl' + i} transform={`translate(${x(v) + 4},${b + 4}) rotate(-90)`} textAnchor="end" fontFamily={SANS} fontWeight={tickW} fontSize={tickFs}>{fx(v)}</text>
          );
        }
        const yy = p.xMode === 'stagger' ? b + (i % 2 === 0 ? 18 : 30) : b + xOff;
        return (
          <text key={'xl' + i} x={x(v)} y={yy} textAnchor="middle" fontFamily={SANS} fontWeight={tickW} fontSize={tickFs}>{fx(v)}</text>
        );
      })}
      <text x={midX} y={fy0 + 246} textAnchor="middle" fontFamily={SANS} fontWeight="bold" fontSize={12}>
        <Rich s={p.xTitle} fs={12} />
      </text>
      <text transform={`translate(${p.yTitleX + 4},${midY}) rotate(-90)`} textAnchor="middle" fontFamily={SANS} fontWeight="bold" fontSize={12}>
        <Rich s={p.yTitle} fs={12} />
      </text>
      <rect x={p.eqBox[0]} y={p.eqBox[1]} width={p.eqBox[2] - p.eqBox[0]} height={p.eqBox[3] - p.eqBox[1]} fill="#fff" stroke="#777" strokeWidth={1} />
      {p.eq.map((s2, i) => (
        <text key={'eq' + i} x={p.eqBox[0] + 4} y={p.eqBox[1] + (p.eqBold ? 12 + i * 16 : 11 + i * 13)} fontFamily={SANS}
          fontWeight={p.eqBold ? 'bold' : 'normal'} fontSize={eqFs}>
          <Rich s={s2} fs={eqFs} />
        </text>
      ))}
    </g>
  );
}

export default function App() {
  return (
    <svg width={1203} height={1303} style={{ position: 'absolute', left: 0, top: 0, background: '#fff' }}>
      <rect width={1203} height={1303} fill="#fff" />
      {PANELS.map((p, i) => (
        <Panel key={p.id} p={p} idx={i} />
      ))}
    </svg>
  );
}
